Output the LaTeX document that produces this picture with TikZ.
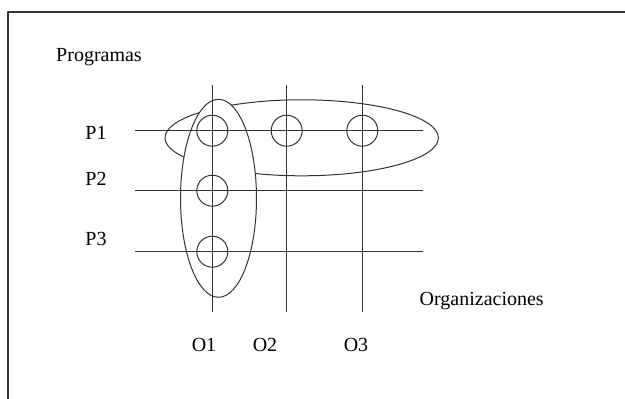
\documentclass[tikz,border=0pt]{standalone}
\usepackage{fontspec}
\setmainfont{Liberation Serif}
\definecolor{gridline}{HTML}{333333}

\begin{document}
\begin{tikzpicture}[x=0.75pt,y=-0.75pt,line join=round,
    lbl/.style={inner sep=0pt,font=\fontsize{15}{18}\selectfont}]
  % Match the original page frame.
  \useasboundingbox (0,0) rectangle (625,399);
  \draw[gridline,line width=1.1pt] (8,399) -- (8,12) -- (625,12);

  % Groups: the organisation O1 and the program P1.
  \draw[gridline,line width=0.75pt] (301.7,137.8) ellipse[x radius=136.7,y radius=38];
  \filldraw[gridline,fill=white,line width=0.75pt] (218.5,198.3) ellipse[x radius=38,y radius=99];

  % Grid of programs (rows) and organisations (columns).
  \coordinate (o1) at (212.3,85);
  \coordinate (o2) at (286.7,85);
  \coordinate (o3) at (362.3,85);
  \coordinate (p1) at (135,130.7);
  \coordinate (p2) at (135,190.7);
  \coordinate (p3) at (135,251.7);
  \foreach \c in {o1,o2,o3}
    \draw[gridline,line width=0.75pt] (\c) -- ++(0,227);
  \foreach \r in {p1,p2,p3}
    \draw[gridline,line width=0.75pt] (\r) -- ++(288,0);

  % Links between a program and an organisation.
  \foreach \x/\y/\n in {212.3/130.7/c11,286.7/130.7/c12,362.3/130.7/c13,
                        212.3/190.7/c21,212.3/251.7/c31}
    \node[draw=gridline,line width=0.75pt,circle,minimum size=23.25pt,inner sep=0pt] (\n) at (\x,\y) {};

  % Labels.
  \node[lbl] (programas) at (99,57) {Programas};
  \node[lbl] (lp1) at (96,132.5) {P1};
  \node[lbl] (lp2) at (96,179) {P2};
  \node[lbl] (lp3) at (96,239) {P3};
  \node[lbl] (organizaciones) at (481.7,301.5) {Organizaciones};
  \node[lbl] (lo1) at (204,345) {O1};
  \node[lbl] (lo2) at (265,345) {O2};
  \node[lbl] (lo3) at (356,345) {O3};
\end{tikzpicture}
\end{document}
